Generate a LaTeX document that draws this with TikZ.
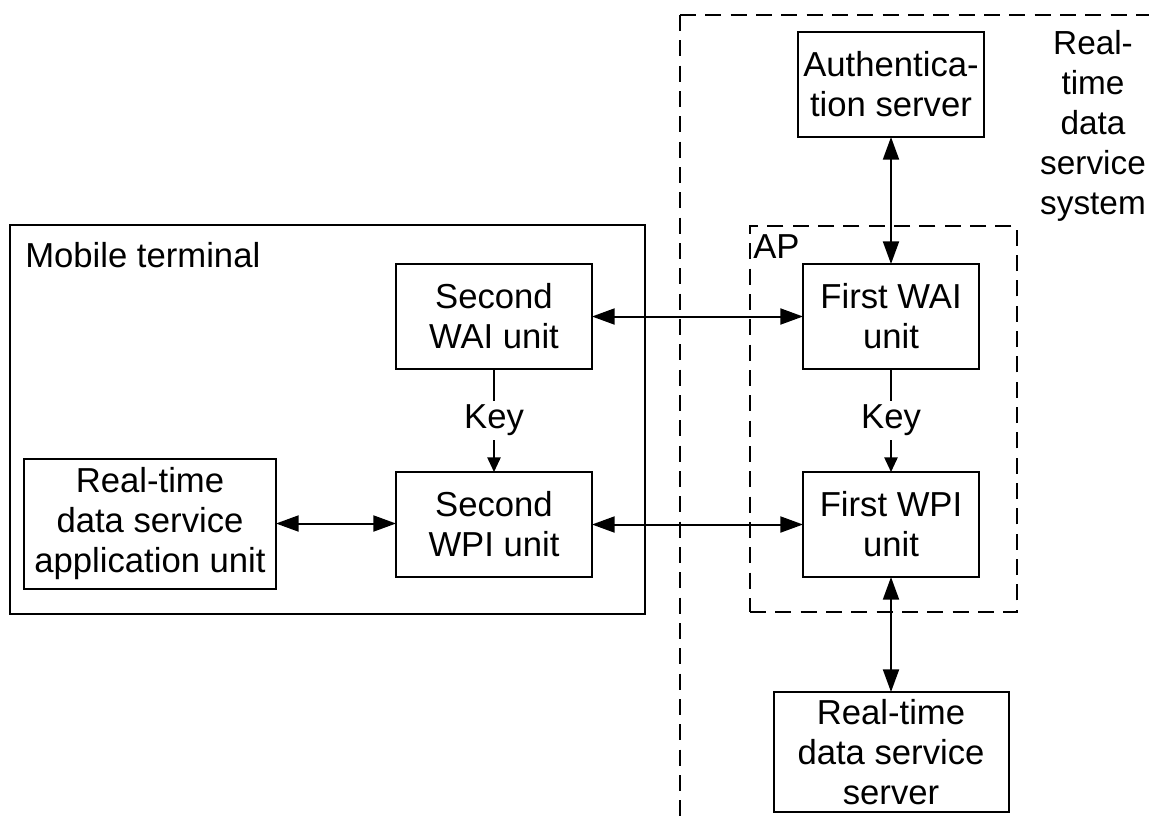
\documentclass[tikz,border=0pt]{standalone}
\usepackage{fontspec}
\setmainfont{Liberation Sans}
\usetikzlibrary{arrows.meta}
\begin{document}
\begin{tikzpicture}[x=0.75pt,y=-0.75pt,
  box/.style={draw, line width=1.5pt, inner sep=0pt, outer sep=0pt, align=center, font=\fontsize{26}{30}\selectfont},
  frame/.style={draw, line width=1.5pt, inner sep=0pt, outer sep=0pt},
  dashframe/.style={draw, line width=1.5pt, dash pattern=on 12pt off 7pt, inner sep=0pt, outer sep=0pt},
  lbl/.style={font=\fontsize{26}{30}\selectfont, inner sep=0pt, align=center},
  dbl/.style={line width=1.5pt, {Triangle[length=17pt,width=12pt]}-{Triangle[length=17pt,width=12pt]}},
  keyarrow/.style={line width=1.2pt, -{Triangle[length=11pt,width=10pt]}},
]
\useasboundingbox (0,0) rectangle (1149,819);
\clip (0,0) rectangle (1149,819);

% outer system frame (open to the right and bottom)
\coordinate (sysc) at (680,15);
\coordinate (sysr) at (1170,15);
\coordinate (sysb) at (680,840);
\draw[dashframe] (sysc) -- (sysr);
\draw[dashframe] (sysc) -- (sysb);

% frames
\node[frame, minimum width=476.25pt, minimum height=291.75pt] (mobile) at (327.5,419.5) {};
\node[dashframe, minimum width=200.25pt, minimum height=289.5pt] (ap) at (883.5,419) {};

% boxes
\node[box, minimum width=139.5pt, minimum height=78.75pt] (auth) at (891,84.5) {Authentica-\\tion server};
\node[box, minimum width=132pt, minimum height=78.75pt] (fwai) at (891,316.5) {First WAI\\unit};
\node[box, minimum width=132pt, minimum height=78.75pt] (fwpi) at (891,524.5) {First WPI\\unit};
\node[box, minimum width=147pt, minimum height=78.75pt] (swai) at (494,316.5) {Second\\WAI unit};
\node[box, minimum width=147pt, minimum height=78.75pt] (swpi) at (494,524.5) {Second\\WPI unit};
\node[box, minimum width=189pt, minimum height=97.5pt] (app) at (150,523.5) {Real-time\\data service\\application unit};
\node[box, minimum width=176.25pt, minimum height=90pt] (server) at (891,752) {Real-time\\data service\\server};

% labels
\node[lbl, anchor=base west] (mt) at (25,267) {Mobile terminal};
\node[lbl, anchor=base west] (aplbl) at (753,258) {AP};
\node[lbl, font=\fontsize{25}{30}\selectfont] (syslbl) at (1093,126) {Real-\\time\\data\\service\\system};

% connectors
\draw[dbl] (auth.south) -- (fwai.north);
\draw[dbl] (swai.east) -- (fwai.west);
\draw[dbl] (swpi.east) -- (fwpi.west);
\draw[dbl] (app.east) -- (app.east -| swpi.west);
\draw[dbl] (fwpi.south) -- (server.north);
\draw[keyarrow] (swai.south) -- node[lbl, fill=white, inner sep=3pt] (k1) {Key} (swpi.north);
\draw[keyarrow] (fwai.south) -- node[lbl, fill=white, inner sep=3pt] (k2) {Key} (fwpi.north);
\end{tikzpicture}
\end{document}
